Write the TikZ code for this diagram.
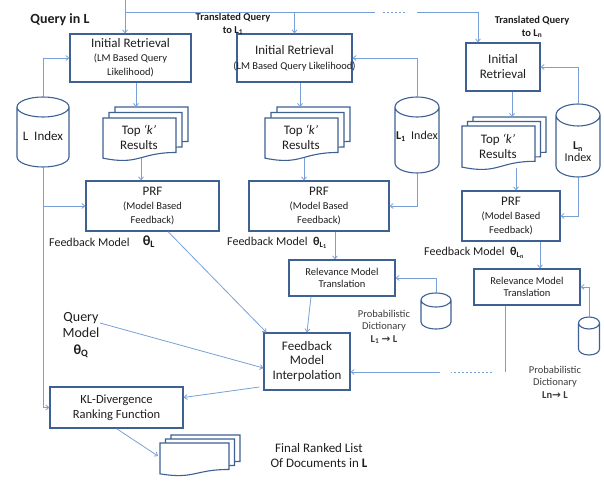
\documentclass[tikz,border=0pt]{standalone}
\usepackage{fontspec}
\setmainfont{Carlito}
\newfontfamily\arrowfont{DejaVu Sans}
\usetikzlibrary{arrows.meta}
\definecolor{boxc}{RGB}{62,96,146}
\definecolor{linec}{RGB}{120,160,215}
\definecolor{txtc}{RGB}{30,30,30}
\definecolor{dictc}{RGB}{60,60,60}
\newcommand\fs[2]{\fontsize{#1}{#2}\selectfont}
\newcommand\docpage[4]{%
 \pgfmathsetmacro\dpxr{#1+#3}%
 \pgfmathsetmacro\dpxm{#1+#3/2}%
 \pgfmathsetmacro\dpya{-(#2)-0.802*(#4)}%
 \pgfmathsetmacro\dpyb{-(#2)-1.1075*(#4)}%
 \pgfmathsetmacro\dpyc{-(#2)-0.934*(#4)}%
 \filldraw[docst] (#1,-#2) -- (\dpxr,-#2) -- (\dpxr,\dpya) .. controls (\dpxm,\dpya) and (\dpxm,\dpyb) .. (#1,\dpyc) -- cycle;}
\newcommand\docstack[6]{%
 \pgfmathsetmacro\dsxa{#1+2*#5}\pgfmathsetmacro\dsya{#2-2*#6}%
 \pgfmathsetmacro\dsxb{#1+#5}\pgfmathsetmacro\dsyb{#2-#6}%
 \docpage{\dsxa}{\dsya}{#3}{#4}%
 \docpage{\dsxb}{\dsyb}{#3}{#4}%
 \docpage{#1}{#2}{#3}{#4}}
\newcommand\cylshape[5]{%
 \pgfmathsetmacro\cyxl{#1-#4}\pgfmathsetmacro\cyxr{#1+#4}%
 \pgfmathsetmacro\cyyt{-(#2)-#5}\pgfmathsetmacro\cyyb{-(#3)+#5}%
 \filldraw[cylst] (\cyxl,\cyyt) -- (\cyxl,\cyyb) arc[start angle=180,end angle=360,x radius=#4,y radius=#5] -- (\cyxr,\cyyt) arc[start angle=0,end angle=360,x radius=#4,y radius=#5];}
\newcommand\sm[1]{{\fs{10.5}{12}#1}}
\begin{document}
\begin{tikzpicture}[x=1pt,y=1pt,
  box/.style={draw=boxc, line width=1.2pt, fill=white, inner sep=0pt, align=center, text=txtc},
  conn/.style={draw=linec, line width=0.8pt},
  arr/.style={conn, -{Straight Barb[length=3pt,width=5pt]}},
  cylst/.style={draw=boxc, line width=1.1pt, fill=white},
  docst/.style={draw=boxc, line width=1.1pt, fill=white},
  txt/.style={inner sep=0pt, align=center, text=txtc}]
\useasboundingbox (0,0) rectangle (604,-481);

% ---- cylinders
\cylshape{43}{97}{167}{26}{10}
\node[txt, font=\fs{13}{15}] (lidx) at (43,-136) {L\ \ Index};
\coordinate (lidxT) at (43,-97);
\coordinate (lidxB) at (43,-167);

\cylshape{417}{97}{173}{22}{10}
\node[txt, font=\fs{12}{14}] (l1idx) at (417,-136) {\textbf{L\textsubscript{1}}\ \ Index};
\coordinate (l1T) at (417,-97);
\coordinate (l1B) at (417,-173);

\cylshape{578}{104}{177}{22}{11}
\node[txt, font=\fs{12}{12}] (lnidx) at (578,-152) {\textbf{L\textsubscript{n}}\\Index};
\coordinate (lnT) at (578,-104);
\coordinate (lnB) at (578,-177);

\cylshape{436}{293}{329}{15}{7}
\coordinate (dc1T) at (436,-293);
\cylshape{589}{317}{355}{10.5}{6}
\coordinate (dc3T) at (589,-317);

% ---- boxes
\node[box, font=\fs{13}{14}, minimum width=121, minimum height=48] (ir1) at (130.5,-58)
  {Initial Retrieval\\\sm{(LM Based Query}\\\sm{Likelihood)}};
\node[box, font=\fs{13}{15}, minimum width=115, minimum height=48] (ir2) at (294.5,-58)
  {Initial Retrieval\\\sm{\makebox[0pt]{(LM Based Query Likelihood)}}};
\node[box, font=\fs{13}{15}, minimum width=74, minimum height=48] (ir3) at (503,-67)
  {Initial\\Retrieval};

\node[box, font=\fs{13}{14}, minimum width=133, minimum height=50] (prf1) at (152.5,-206)
  {PRF\\\sm{(Model Based}\\\sm{Feedback)}};
\node[box, font=\fs{13}{14}, minimum width=140, minimum height=50] (prf2) at (319,-206)
  {PRF\\\sm{(Model Based}\\\sm{Feedback)}};
\node[box, font=\fs{13}{14}, minimum width=98, minimum height=50] (prf3) at (511,-216)
  {PRF\\\sm{(Model Based}\\\sm{Feedback)}};

\node[box, font=\fs{10.5}{12.5}, minimum width=106, minimum height=36] (rmt1) at (342,-278)
  {Relevance Model\\Translation};
\node[box, font=\fs{10.5}{12.5}, minimum width=106, minimum height=36] (rmt3) at (527,-287)
  {Relevance Model\\Translation};

\node[box, font=\fs{13}{14.5}, minimum width=86, minimum height=57] (fmi) at (307,-361.5)
  {Feedback\\Model\\Interpolation};
\node[box, font=\fs{12.5}{15}, minimum width=133, minimum height=41] (kl) at (116.5,-407.5)
  {KL-Divergence\\Ranking Function};

% ---- document stacks
\docstack{103}{118}{73}{43}{6}{5.5}
\node[txt, font=\fs{13}{15}] (d1) at (139,-137) {Top \textit{‘k’}\\Results};
\coordinate (d1in) at (136,-107);
\coordinate (d1out) at (141,-158);

\docstack{265}{118}{73}{43}{6}{5.5}
\node[txt, font=\fs{13}{15}] (d2) at (301,-137) {Top \textit{‘k’}\\Results};
\coordinate (d2in) at (300,-107);
\coordinate (d2out) at (304,-158);

\docstack{462}{126}{73}{44}{5.5}{4.5}
\node[txt, font=\fs{13}{15}] (d3) at (498,-146) {Top \textit{‘k’}\\Results};
\coordinate (d3in) at (512,-117);
\coordinate (d3out) at (516,-168);

\docstack{160}{443}{69}{33}{5.5}{4}
\coordinate (fdin) at (158,-456);

% ---- texts
\node[txt, font=\fs{14}{16}\bfseries] (qinl) at (60,-20) {Query in L};
\node[txt, font=\fs{10.5}{12.5}\bfseries] (tq1) at (233,-24) {Translated Query\\to L\textsubscript{1}};
\node[txt, font=\fs{10.5}{12.5}\bfseries] (tqn) at (532,-27) {Translated Query\\to L\textsubscript{n}};

\node[txt, font=\fs{12}{14}, anchor=west] (fbl) at (49,-242) {Feedback Model};
\node[txt, font=\fs{14}{14}\bfseries] (thl) at (149,-242) {θ\textsubscript{L}};
\node[txt, font=\fs{12}{14}, anchor=west] (fb1) at (227,-243)
  {Feedback Model\ \ {\bfseries θ\textsubscript{L\textsubscript{1}}}};
\node[txt, font=\fs{12}{14}, anchor=west] (fbn) at (424,-253)
  {Feedback Model\ \ {\bfseries θ\textsubscript{L\textsubscript{n}}}};

\node[txt, font=\fs{14}{16.5}] (qm) at (81,-335) {Query\\Model\\{\bfseries θ\textsubscript{Q}}};
\coordinate (qmout) at (100,-323);

\node[txt, font=\fs{10.5}{12.5}, text=dictc] (pd1) at (384,-327)
  {Probabilistic\\Dictionary\\{\bfseries L\textsubscript{1} {\arrowfont →} L}};
\node[txt, font=\fs{10.5}{12.5}, text=dictc] (pdn) at (555,-382)
  {Probabilistic\\Dictionary\\{\bfseries Ln{\arrowfont →} L}};

\node[txt, font=\fs{13}{15}] (final) at (319,-455.5) {Final Ranked List\\Of Documents in \textbf{L}};

% ---- connectors
\coordinate (qtop) at (125,0);
\coordinate (qsplit) at (125,-12);
\coordinate (h1) at (375,-12);
\coordinate (h2a) at (383,-12);
\coordinate (h2b) at (407,-12);
\coordinate (h3) at (417,-12);
\coordinate (h4) at (478,-12);
\draw[arr] (qtop) -- (qtop |- ir1.north);
\draw[conn] (qsplit) -- (h1);
\draw[conn, dashed, dash pattern=on 2pt off 2pt] (h2a) -- (h2b);
\draw[arr] (h3) -- (h4) -- (h4 |- ir3.north);
\draw[arr] (ir2.north |- qsplit) -- (ir2.north);

\draw[arr] (lidxT) |- (ir1.west);
\draw[arr] (lidxB) |- (kl.west);
\draw[arr] (lidxB |- prf1.west) -- (prf1.west);

\draw[arr] (ir1.south -| d1in) -- (d1in);
\draw[arr] (d1out) -- (d1out |- prf1.north);
\draw[arr] (ir2.south -| d2in) -- (d2in);
\draw[arr] (d2out) -- (d2out |- prf2.north);
\draw[arr] (ir3.south -| d3in) -- (d3in);
\draw[arr] (d3out) -- (d3out |- prf3.north);

\draw[arr] (l1T) |- (ir2.east);
\draw[arr] (l1B) |- (prf2.east);
\draw[arr] (lnT) |- (ir3.east);
\draw[arr] (lnB) |- (prf3.east);

\draw[arr] ([xshift=16]prf2.south) -- ([xshift=16]prf2.south |- rmt1.north);
\draw[arr] (dc1T) |- (rmt1.east);
\draw[arr] ([xshift=-31]rmt1.south) -- (fmi.north);
\draw[arr] ([xshift=15.5]prf1.south) -- ([xshift=3]fmi.north west);
\draw[arr] (qmout) -- ([yshift=-6.5]fmi.west);
\draw[arr] ([xshift=-4,yshift=-25.5]fmi.west) -- ([yshift=10]kl.east);
\draw[arr] (kl.south) -- (fdin);

\draw[arr] ([xshift=29]prf3.south) -- ([xshift=29]prf3.south |- rmt3.north);
\draw[arr] (dc3T) |- (rmt3.east);
\coordinate (r3a) at (505,-372);
\coordinate (r3b) at (492,-372);
\coordinate (r3c) at (451,-372);
\coordinate (r3d) at (440,-372);
\draw[conn] (rmt3.south -| r3a) -- (r3a);
\draw[conn, dashed, dash pattern=on 2pt off 2pt] (r3b) -- (r3c);
\draw[arr] (r3d) -- ([yshift=-10.5]fmi.east);
\end{tikzpicture}
\end{document}
